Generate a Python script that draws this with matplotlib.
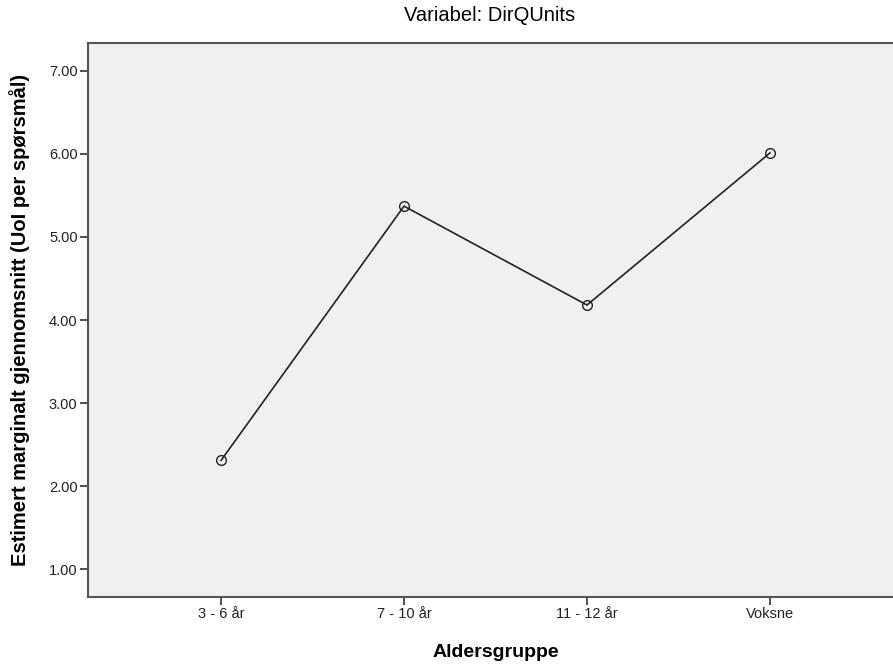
import matplotlib
matplotlib.use('Agg')
import matplotlib.pyplot as plt

groups = ['3 - 6 år', '7 - 10 år', '11 - 12 år', 'Voksne']
means = [2.31, 5.37, 4.18, 6.01]
yticks = [1.0, 2.0, 3.0, 4.0, 5.0, 6.0, 7.0]

plt.rcParams['font.family'] = ['Liberation Sans', 'DejaVu Sans']

fig = plt.figure(figsize=(8.93, 6.64), dpi=100)
fig.patch.set_facecolor('white')
ax = fig.add_axes([88 / 893, 67 / 664, 815 / 893, 554 / 664])
ax.set_facecolor('#f0f0f0')

x = list(range(len(groups)))
ax.plot(x, means, color='#222222', lw=1.2, marker='o', ms=7,
        mfc='none', mec='#222222', mew=1.0)

ax.set_xlim(-0.727, len(groups) - 1 + 0.727)
ax.set_ylim(0.667, 7.333)
ax.set_xticks(x)
ax.set_xticklabels(groups, fontsize=10.5)
ax.set_yticks(yticks)
ax.set_yticklabels(['%.2f' % v for v in yticks], fontsize=10.5)

for side in ['left', 'bottom', 'top']:
    ax.spines[side].set_color('#555555')
    ax.spines[side].set_linewidth(1.5)
ax.spines['right'].set_visible(False)

ax.tick_params(axis='both', direction='out', length=6, width=1.2,
               color='#333333', labelcolor='#222222', pad=1.5)

ax.set_xlabel('Aldersgruppe', fontsize=14, fontweight='bold', labelpad=16)
ax.set_ylabel('Estimert marginalt gjennomsnitt (UoI per spørsmål)',
              fontsize=14.5, fontweight='bold', labelpad=14)
fig.text(0.548, 0.991, 'Variabel: DirQUnits', ha='center', va='top', fontsize=14.5)

plt.savefig('out.png', dpi=100)
